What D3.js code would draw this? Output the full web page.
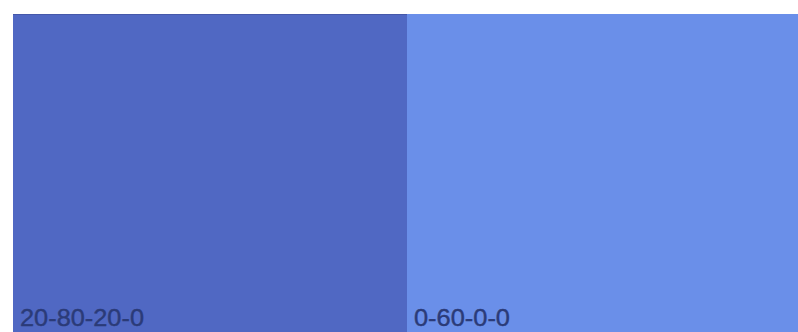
<!DOCTYPE html>
<html><head><meta charset="utf-8">
<script src="https://cdn.jsdelivr.net/npm/d3@7"></script>
<style>html,body{margin:0;padding:0;background:#fff;overflow:hidden}</style>
</head><body>
<script>
const labels = ["20-80-20-0", "0-60-0-0"];
const colors = ["#5068c3", "#6a8fe9"];
const values = [1, 1];

const W = 798, H = 332;
const svg = d3.select("body").append("svg").attr("width", W).attr("height", H);

const x = d3.scaleBand().domain(labels).range([13, 801]).padding(0);
const y = d3.scaleLinear().domain([0, 1]).range([H, 14]);

svg.selectAll("rect.sw").data(labels).join("rect")
  .attr("class", "sw")
  .attr("x", d => x(d))
  .attr("y", (d, i) => y(values[i]))
  .attr("width", x.bandwidth())
  .attr("height", (d, i) => H - y(values[i]))
  .attr("fill", (d, i) => colors[i]);

svg.append("line").attr("x1", 13).attr("x2", x(labels[1])).attr("y1", 14.5).attr("y2", 14.5)
  .attr("stroke", "#3e4f9a").attr("stroke-width", 1).attr("opacity", 0.6);

svg.selectAll("text.lb").data(labels).join("text")
  .attr("class", "lb")
  .attr("x", d => x(d) + 7)
  .attr("y", 326)
  .attr("font-family", "Liberation Sans, Arial, sans-serif")
  .attr("font-size", 24)
  .attr("textLength", (d, i) => i === 0 ? 124 : 96)
  .attr("lengthAdjust", "spacingAndGlyphs")
  .attr("fill", "#2b3b78")
  .attr("stroke", "#2b3b78")
  .attr("stroke-width", 0.4)
  .text(d => d);
</script>
</body></html>
